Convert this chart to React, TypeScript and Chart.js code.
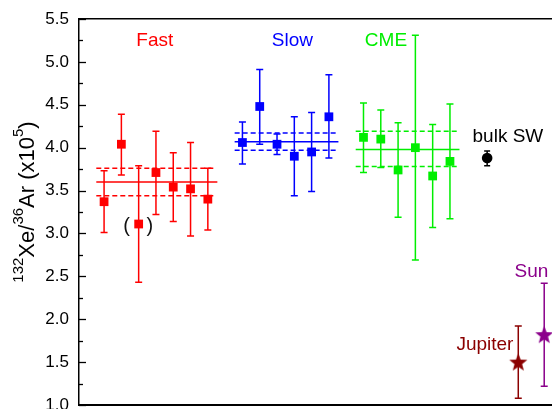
import React, { useEffect, useRef } from 'react';
import { Chart, registerables } from 'chart.js';

Chart.register(...registerables);

// ---- Data ----
const fastValues = [3.37, 4.04, 3.11, 3.71, 3.54, 3.52, 3.40];
const fastUpper = [3.73, 4.39, 3.79, 4.19, 3.94, 4.06, 3.76];
const fastLower = [3.01, 3.68, 2.43, 3.22, 3.14, 2.97, 3.04];
const fastMean = 3.60;
const fastMeanBand = [3.44, 3.76];

const slowValues = [4.06, 4.48, 4.04, 3.90, 3.95, 4.36];
const slowUpper = [4.30, 4.91, 4.16, 4.36, 4.41, 4.85];
const slowLower = [3.81, 4.04, 3.92, 3.44, 3.49, 3.88];
const slowMean = 4.07;
const slowMeanBand = [3.97, 4.17];

const cmeValues = [4.12, 4.10, 3.74, 4.00, 3.67, 3.84];
const cmeUpper = [4.52, 4.44, 4.29, 5.31, 4.27, 4.51];
const cmeLower = [3.71, 3.77, 3.19, 2.69, 3.07, 3.17];
const cmeMean = 3.98;
const cmeMeanBand = [3.78, 4.19];

const bulkSW = [3.88];
const bulkSWRange = [3.79, 3.96];
const jupiter = [1.50];
const jupiterRange = [1.08, 1.92];
const sun = [1.82];
const sunRange = [1.22, 2.42];

const yMin = 1.0;
const yMax = 5.5;
const yStep = 0.25;

// ---- Layout constants (x positions are in abstract axis units) ----
const X_MAX = 27.35;
const FAST_START = 1.45;
const SLOW_START = 9.45;
const CME_START = 16.45;
const BULK_X = 23.6;
const JUP_X = 25.4;
const SUN_X = 26.9;

const FONT = "'Liberation Sans', Arial, Helvetica, sans-serif";
const RED = '#ff0000';
const BLUE = '#0000ff';
const GREEN = '#00ee00';
const DARKRED = '#8b0000';
const PURPLE = '#8b008b';

function pts(values: number[], upper: number[], lower: number[], start: number) {
  return values.map((v, i) => ({ x: start + i, y: v, yMax: upper[i], yMin: lower[i] }));
}

function hline(y: number, x0: number, x1: number) {
  return [{ x: x0, y }, { x: x1, y }];
}

function makeStar(color: string, r: number) {
  const c = document.createElement('canvas');
  const s = Math.ceil(r * 2 + 2);
  c.width = s;
  c.height = s;
  const g = c.getContext('2d')!;
  g.fillStyle = color;
  g.beginPath();
  const cy = s / 2 + r * 0.08;
  for (let k = 0; k < 10; k++) {
    const rad = k % 2 === 0 ? r : r * 0.42;
    const a = -Math.PI / 2 + (k * Math.PI) / 5;
    const px = s / 2 + rad * Math.cos(a);
    const py = cy + rad * Math.sin(a);
    if (k === 0) g.moveTo(px, py);
    else g.lineTo(px, py);
  }
  g.closePath();
  g.fill();
  return c;
}

const errorBarPlugin = {
  id: 'errorBars',
  beforeDatasetsDraw(chart: any) {
    const ctx = chart.ctx;
    const yS = chart.scales.y;
    chart.data.datasets.forEach((ds: any, di: number) => {
      if (!ds.errorBars) return;
      const meta = chart.getDatasetMeta(di);
      ctx.save();
      ctx.strokeStyle = ds.errorColor;
      ctx.lineWidth = 1.5;
      meta.data.forEach((el: any, i: number) => {
        const raw = ds.data[i];
        const x = el.x;
        const yt = yS.getPixelForValue(raw.yMax);
        const yb = yS.getPixelForValue(raw.yMin);
        const c = ds.capHalf;
        ctx.beginPath();
        ctx.moveTo(x, yt);
        ctx.lineTo(x, yb);
        ctx.moveTo(x - c, yt);
        ctx.lineTo(x + c, yt);
        ctx.moveTo(x - c, yb);
        ctx.lineTo(x + c, yb);
        ctx.stroke();
      });
      ctx.restore();
    });
  },
};

const annotations = [
  { text: 'Fast', x: 4.38, y: 5.25, color: RED, size: 19 },
  { text: 'Slow', x: 12.34, y: 5.25, color: BLUE, size: 19 },
  { text: 'CME', x: 17.75, y: 5.25, color: GREEN, size: 19 },
  { text: 'bulk SW', x: 24.8, y: 4.13, color: '#000000', size: 19 },
  { text: 'Jupiter', x: 23.47, y: 1.70, color: DARKRED, size: 19 },
  { text: 'Sun', x: 26.16, y: 2.555, color: PURPLE, size: 19 },
  { text: '(', x: 2.75, y: 3.08, color: '#111111', size: 20 },
  { text: ')', x: 4.1, y: 3.08, color: '#111111', size: 20 },
];

const textPlugin = {
  id: 'texts',
  afterDraw(chart: any) {
    const ctx = chart.ctx;
    const xS = chart.scales.x;
    const yS = chart.scales.y;
    const area = chart.chartArea;
    ctx.save();
    // inward tick marks on the left axis
    ctx.strokeStyle = '#000';
    ctx.lineWidth = 1.3;
    yS.ticks.forEach((t: any) => {
      const py = Math.round(yS.getPixelForValue(t.value)) + 0.5;
      const major = Math.abs(t.value * 2 - Math.round(t.value * 2)) < 1e-6;
      const len = major ? 7 : 4;
      ctx.beginPath();
      ctx.moveTo(area.left, py);
      ctx.lineTo(area.left + len, py);
      ctx.stroke();
    });
    // annotations
    ctx.textAlign = 'center';
    ctx.textBaseline = 'middle';
    annotations.forEach((a) => {
      ctx.font = `${a.size}px ${FONT}`;
      ctx.fillStyle = a.color;
      ctx.fillText(a.text, xS.getPixelForValue(a.x), yS.getPixelForValue(a.y));
    });
    // y axis title with superscripts
    const segs = [
      { t: '132', sup: true },
      { t: 'Xe/', sup: false },
      { t: '36', sup: true },
      { t: 'Ar (x10', sup: false },
      { t: '5', sup: true },
      { t: ')', sup: false },
    ];
    const mainF = `22px ${FONT}`;
    const supF = `15px ${FONT}`;
    let total = 0;
    const widths = segs.map((s) => {
      ctx.font = s.sup ? supF : mainF;
      const w = ctx.measureText(s.t).width;
      total += w;
      return w;
    });
    ctx.translate(33.5, (area.top + area.bottom) / 2 - 10);
    ctx.rotate(-Math.PI / 2);
    ctx.textAlign = 'left';
    ctx.textBaseline = 'alphabetic';
    ctx.fillStyle = '#000';
    let cx = -total / 2;
    segs.forEach((s, i) => {
      ctx.font = s.sup ? supF : mainF;
      ctx.fillText(s.t, cx, s.sup ? -11 : 0);
      cx += widths[i];
    });
    ctx.restore();
  },
};

export default function App() {
  const ref = useRef<HTMLCanvasElement>(null);

  useEffect(() => {
    if (!ref.current) return;
    const jupStar = makeStar(DARKRED, 9.5);
    const sunStar = makeStar(PURPLE, 9.5);

    const lineDs = (data: any[], color: string, dashed: boolean) => ({
      type: 'scatter' as const,
      data,
      showLine: true,
      borderColor: color,
      borderWidth: 1.5,
      borderDash: dashed ? [5, 3] : [],
      pointRadius: 0,
      pointHoverRadius: 0,
      fill: false,
    });

    const pointDs = (data: any[], color: string, style: any, radius: number, capHalf: number) => ({
      type: 'scatter' as const,
      data,
      pointStyle: style,
      pointRadius: radius,
      pointHoverRadius: radius,
      backgroundColor: color,
      borderColor: color,
      borderWidth: 0,
      errorBars: true,
      errorColor: color,
      capHalf,
    });

    const chart = new Chart(ref.current, {
      type: 'scatter',
      data: {
        datasets: [
          pointDs(pts(fastValues, fastUpper, fastLower, FAST_START), RED, 'rect', 6.2, 3.5),
          pointDs(pts(slowValues, slowUpper, slowLower, SLOW_START), BLUE, 'rect', 6.2, 3.5),
          pointDs(pts(cmeValues, cmeUpper, cmeLower, CME_START), GREEN, 'rect', 6.2, 3.5),
          pointDs(pts(bulkSW, [bulkSWRange[1]], [bulkSWRange[0]], BULK_X), '#000000', 'circle', 5.3, 3),
          pointDs(pts(jupiter, [jupiterRange[1]], [jupiterRange[0]], JUP_X), DARKRED, jupStar, 9.5, 3.5),
          pointDs(pts(sun, [sunRange[1]], [sunRange[0]], SUN_X), PURPLE, sunStar, 9.5, 3.5),
          lineDs(hline(fastMean, 1, 8), RED, false),
          lineDs(hline(fastMeanBand[0], 1, 7.8), RED, true),
          lineDs(hline(fastMeanBand[1], 1, 7.8), RED, true),
          lineDs(hline(slowMean, 9, 15), BLUE, false),
          lineDs(hline(slowMeanBand[0], 9, 15), BLUE, true),
          lineDs(hline(slowMeanBand[1], 9, 15), BLUE, true),
          lineDs(hline(cmeMean, 16, 22), GREEN, false),
          lineDs(hline(cmeMeanBand[0], 16, 22), GREEN, true),
          lineDs(hline(cmeMeanBand[1], 16, 22), GREEN, true),
        ] as any,
      },
      options: {
        animation: false,
        responsive: false,
        maintainAspectRatio: false,
        events: [],
        layout: { autoPadding: false, padding: { top: 19, left: 0, right: 0, bottom: 0 } },
        plugins: {
          legend: { display: false },
          tooltip: { enabled: false },
          title: { display: false },
        },
        scales: {
          x: {
            type: 'linear',
            position: 'bottom',
            min: 0,
            max: X_MAX,
            grid: { display: false, drawTicks: false },
            ticks: { display: false },
            border: { display: true, color: '#000', width: 2 },
            afterFit: (s: any) => {
              s.height = 4;
              s.paddingLeft = 0;
              s.paddingRight = 0;
            },
          },
          x2: {
            type: 'linear',
            position: 'top',
            min: 0,
            max: X_MAX,
            grid: { display: false, drawTicks: false },
            ticks: { display: false },
            border: { display: true, color: '#000', width: 1.5 },
            afterFit: (s: any) => {
              s.height = 0;
              s.paddingLeft = 0;
              s.paddingRight = 0;
            },
          },
          y: {
            type: 'linear',
            min: yMin,
            max: yMax,
            ticks: {
              stepSize: yStep,
              autoSkip: false,
              padding: 10,
              color: '#000',
              font: { family: FONT, size: 17 },
              callback: (v: any) => {
                const n = Number(v);
                return Math.abs(n * 2 - Math.round(n * 2)) < 1e-6 ? n.toFixed(1) : '';
              },
            },
            grid: { display: false, drawTicks: false },
            border: { display: true, color: '#000', width: 1.5 },
            afterFit: (s: any) => {
              s.width = 79;
              s.paddingTop = 0;
              s.paddingBottom = 0;
            },
          },
        },
      } as any,
      plugins: [errorBarPlugin, textPlugin],
    });
    return () => chart.destroy();
  }, []);

  return (
    <div style={{ position: 'absolute', left: 0, top: 0, width: 552, height: 409, background: '#ffffff' }}>
      <canvas ref={ref} width={552} height={409} style={{ display: 'block', width: 552, height: 409 }} />
    </div>
  );
}
